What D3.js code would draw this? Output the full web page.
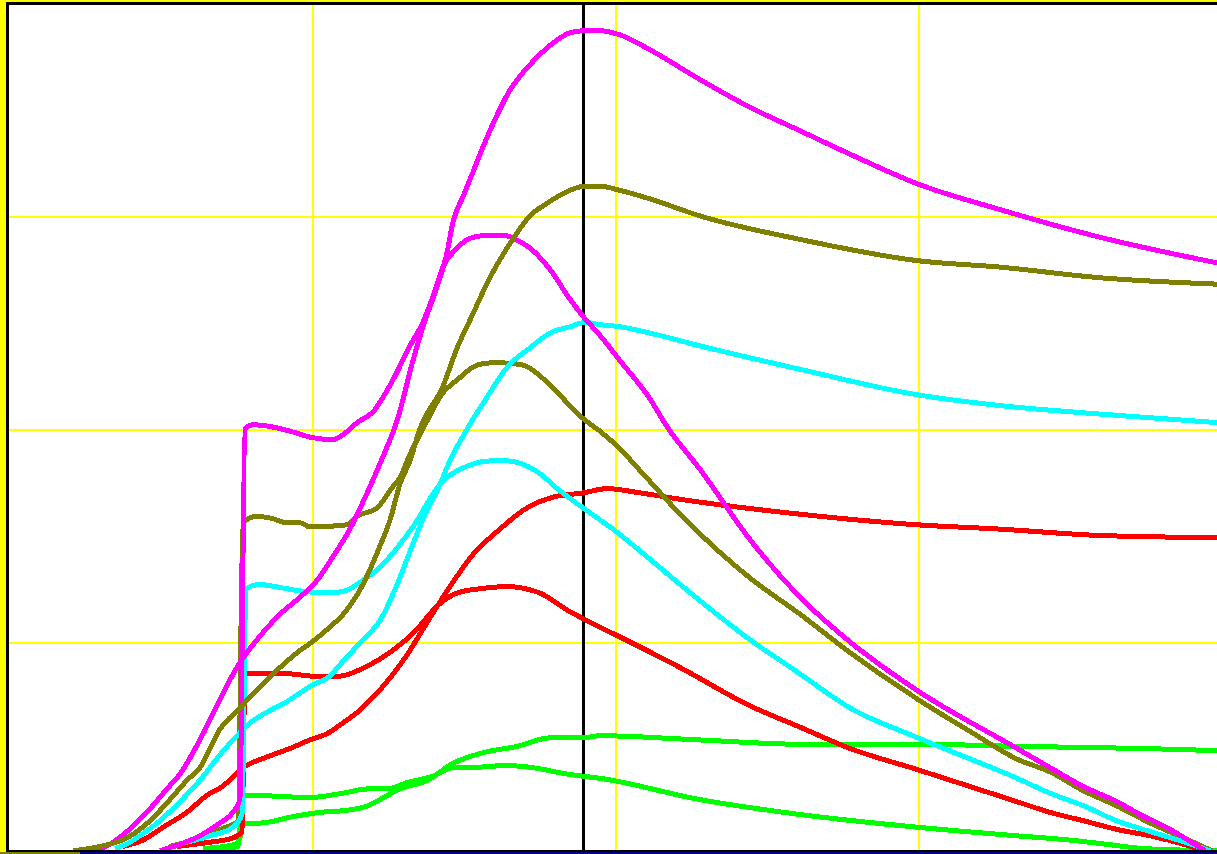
<!DOCTYPE html>
<html>
<head>
<meta charset="utf-8">
<script src="https://cdn.jsdelivr.net/npm/d3@7"></script>
<style>
  html, body { margin: 0; padding: 0; background: #ffffff; overflow: hidden; }
  svg { display: block; }
</style>
</head>
<body>
<svg id="chart" width="1217" height="854"></svg>
<script>
// Grid divisions
const xTicks = [10, 20, 30];
const yTicks = [1, 2, 3];
const cursorX = 18.96;

// Each trace: [x, y] pairs
const magentaRise = [[2.84,0.02],[3.33,0.05],[3.89,0.11],[4.55,0.20],[5.21,0.31],[5.64,0.38],[6.30,0.54],[6.96,0.73],[7.52,0.88],[8.18,1.01],[8.94,1.13],[9.60,1.21],[10.17,1.29],[10.69,1.40],[11.25,1.53],[11.82,1.70],[12.34,1.87],[12.81,2.04],[13.33,2.32],[13.66,2.48],[14.13,2.67],[14.46,2.83],[14.65,2.97],[14.98,3.09],[15.21,3.17],[15.87,3.40],[16.53,3.59],[17.19,3.71],[17.85,3.80],[18.51,3.86],[19.01,3.87],[19.50,3.87],[20.17,3.85],[21.16,3.78],[22.81,3.64],[24.46,3.51],[26.11,3.40],[27.76,3.29],[30.00,3.15],[32.71,3.03],[36.01,2.90],[39.87,2.78]];
const magentaStep = [[4.98,0.02],[5.64,0.05],[6.30,0.09],[6.96,0.15],[7.39,0.20],[7.62,0.26],[7.79,2.00],[8.05,2.02],[8.68,2.01],[9.27,1.99],[10.00,1.96],[10.69,1.95],[11.09,1.98],[11.49,2.03],[12.01,2.08],[12.67,2.23],[13.23,2.39],[13.66,2.50],[14.06,2.65],[14.32,2.76],[14.72,2.84],[15.31,2.90],[15.87,2.91],[16.30,2.91],[16.86,2.88],[17.19,2.85],[17.85,2.75],[18.51,2.61],[18.94,2.53],[19.50,2.44],[20.17,2.32],[21.16,2.14],[21.72,2.01],[22.81,1.81],[24.46,1.48],[26.11,1.21],[27.76,1.00],[30.00,0.77],[33.27,0.50],[34.36,0.41],[35.48,0.32],[36.57,0.25],[37.33,0.19],[38.32,0.12],[39.47,0.02]];
const oliveRise = [[2.11,0.02],[3.00,0.04],[3.89,0.08],[4.65,0.16],[5.31,0.26],[5.87,0.35],[6.30,0.41],[6.96,0.59],[7.62,0.69],[8.28,0.79],[8.94,0.88],[9.60,0.96],[10.00,1.00],[10.59,1.07],[11.09,1.14],[11.68,1.27],[12.24,1.45],[12.57,1.57],[12.90,1.74],[13.23,1.85],[13.56,2.00],[14.32,2.20],[14.79,2.38],[15.31,2.54],[15.87,2.71],[16.53,2.87],[17.19,3.00],[17.76,3.06],[18.35,3.11],[19.01,3.14],[19.50,3.14],[20.17,3.12],[21.16,3.08],[22.81,3.00],[26.11,2.89],[30.00,2.79],[32.71,2.76],[36.01,2.71],[39.87,2.68]];
const oliveStep = [[5.31,0.04],[6.30,0.08],[6.96,0.12],[7.56,0.16],[7.72,1.56],[8.18,1.59],[8.68,1.58],[9.17,1.56],[9.60,1.56],[9.93,1.54],[11.16,1.55],[11.49,1.59],[12.15,1.63],[12.67,1.73],[12.90,1.77],[13.23,1.88],[13.73,2.02],[14.32,2.17],[14.79,2.23],[15.45,2.30],[15.87,2.31],[16.30,2.31],[16.96,2.30],[17.76,2.22],[18.51,2.11],[18.94,2.05],[19.50,1.99],[20.07,1.92],[20.92,1.79],[22.15,1.60],[24.46,1.30],[26.11,1.13],[27.76,0.95],[30.00,0.73],[31.72,0.58],[33.27,0.45],[34.36,0.39],[35.48,0.30],[36.57,0.23],[37.66,0.15],[38.78,0.08],[39.70,0.02]];
const cyanRise = [[3.50,0.03],[3.99,0.06],[4.42,0.10],[4.98,0.16],[5.64,0.25],[6.30,0.35],[6.96,0.47],[7.46,0.55],[7.95,0.62],[8.51,0.67],[9.17,0.72],[9.60,0.76],[10.03,0.80],[10.50,0.83],[11.09,0.92],[11.68,1.01],[12.24,1.10],[12.81,1.27],[13.33,1.46],[13.73,1.60],[14.13,1.71],[14.55,1.85],[15.12,2.00],[15.78,2.15],[16.44,2.29],[17.19,2.38],[17.85,2.45],[18.51,2.48],[19.01,2.50],[19.50,2.49],[20.17,2.48],[21.16,2.45],[22.81,2.39],[26.11,2.28],[30.00,2.16],[32.71,2.11],[36.01,2.07],[39.87,2.03]];
const cyanStep = [[5.87,0.06],[6.63,0.09],[7.39,0.13],[7.69,0.19],[7.82,1.25],[8.28,1.27],[8.78,1.26],[9.60,1.24],[10.59,1.23],[11.09,1.24],[11.68,1.29],[12.24,1.35],[12.74,1.43],[13.33,1.54],[14.22,1.74],[15.21,1.83],[15.87,1.85],[16.44,1.85],[17.43,1.80],[18.18,1.71],[18.94,1.63],[19.93,1.53],[21.06,1.40],[22.15,1.27],[24.46,1.01],[26.11,0.85],[27.76,0.69],[30.00,0.55],[33.27,0.36],[34.36,0.29],[35.48,0.23],[36.57,0.16],[37.66,0.11],[38.81,0.06],[39.64,0.02]];
const redRise = [[3.76,0.04],[4.42,0.07],[5.08,0.13],[5.87,0.20],[6.53,0.28],[7.03,0.32],[7.72,0.41],[8.51,0.46],[9.27,0.50],[9.93,0.54],[10.50,0.57],[11.02,0.62],[11.58,0.68],[12.01,0.74],[12.57,0.83],[13.14,0.94],[13.66,1.06],[14.46,1.24],[15.31,1.41],[16.20,1.53],[17.10,1.63],[17.95,1.68],[18.94,1.70],[19.74,1.72],[20.83,1.70],[22.15,1.67],[26.11,1.60],[30.00,1.55],[32.71,1.53],[36.01,1.50],[39.87,1.49]];
const redStep = [[5.54,0.04],[6.63,0.06],[7.39,0.08],[7.69,0.11],[7.79,0.85],[8.28,0.85],[9.27,0.85],[10.00,0.84],[10.92,0.84],[11.58,0.87],[12.24,0.92],[13.33,1.04],[14.22,1.18],[14.79,1.23],[15.54,1.25],[16.44,1.26],[17.52,1.23],[18.42,1.15],[18.94,1.11],[19.93,1.04],[21.06,0.96],[22.15,0.88],[24.46,0.70],[26.11,0.60],[27.76,0.50],[30.00,0.40],[33.27,0.25],[34.36,0.20],[35.48,0.16],[36.57,0.12],[37.66,0.09],[38.78,0.05],[39.44,0.02]];
const greenRise = [[6.40,0.03],[7.46,0.05],[7.62,0.08],[7.72,0.15],[8.28,0.15],[9.37,0.18],[10.26,0.20],[11.16,0.21],[11.82,0.23],[12.24,0.26],[12.90,0.31],[13.80,0.35],[14.65,0.43],[15.64,0.48],[16.77,0.51],[17.85,0.55],[18.94,0.55],[19.50,0.56],[22.81,0.54],[26.11,0.52],[30.00,0.52],[33.27,0.51],[37.46,0.50],[39.87,0.49]];
const greenStep = [[6.40,0.02],[7.56,0.04],[7.72,0.28],[7.95,0.28],[9.93,0.27],[11.02,0.29],[11.82,0.31],[12.48,0.31],[13.14,0.34],[13.99,0.37],[14.65,0.41],[15.12,0.41],[16.44,0.42],[17.29,0.41],[18.42,0.38],[18.94,0.37],[19.50,0.36],[22.81,0.26],[26.11,0.19],[30.00,0.13],[33.27,0.09],[35.02,0.07],[36.24,0.05],[37.46,0.03],[39.87,0.02]];

// Painting order, bottom to top
const traces = [
  { data: greenStep,   color: "#00ff00" },
  { data: greenRise,   color: "#00ff00" },
  { data: redStep,     color: "#ff0000" },
  { data: redRise,     color: "#ff0000" },
  { data: oliveStep,   color: "#808000" },
  { data: cyanStep,    color: "#00ffff" },
  { data: cyanRise,    color: "#00ffff" },
  { data: magentaStep, color: "#ff00ff" },
  { data: magentaRise, color: "#ff00ff" },
  { data: oliveRise,   color: "#808000" }
];

const W = 1217, H = 854;
const plot = { left: 9, top: 5, right: 1217, bottom: 850 };

const svg = d3.select("#chart");

const x = d3.scaleLinear().domain([0, 40]).range([9, 1221]);
const y = d3.scaleLinear().domain([0, 4]).range([855, 3]);

// Frame: yellow outer strip, black border, white plotting field
svg.append("rect").attr("x", 0).attr("y", 0).attr("width", W).attr("height", H).attr("fill", "#ffff00");
svg.append("rect").attr("x", 6).attr("y", 2).attr("width", W - 6).attr("height", 850).attr("fill", "#000000");
svg.append("rect").attr("x", plot.left).attr("y", plot.top)
  .attr("width", plot.right - plot.left).attr("height", plot.bottom - plot.top).attr("fill", "#ffffff");
svg.append("rect").attr("x", 0).attr("y", 852).attr("width", 80).attr("height", 2).attr("fill", "#808000");
svg.append("rect").attr("x", 80).attr("y", 852).attr("width", W - 80).attr("height", 2).attr("fill", "#000080");

svg.append("clipPath").attr("id", "plotClip")
  .append("rect").attr("x", plot.left).attr("y", plot.top)
  .attr("width", plot.right - plot.left).attr("height", plot.bottom - plot.top);

const field = svg.append("g").attr("clip-path", "url(#plotClip)");

// Yellow grid from axes
const gx = field.append("g")
  .attr("transform", `translate(0,${plot.bottom})`)
  .call(d3.axisBottom(x).tickValues(xTicks).tickSize(-(plot.bottom - plot.top)).tickFormat(""));
const gy = field.append("g")
  .attr("transform", `translate(${plot.left},0)`)
  .call(d3.axisLeft(y).tickValues(yTicks).tickSize(-(plot.right - plot.left)).tickFormat(""));
[gx, gy].forEach(g => {
  g.select(".domain").remove();
  g.selectAll(".tick line").attr("stroke", "#ffff00").attr("stroke-width", 2).attr("shape-rendering", "crispEdges");
});

// Cursor line
field.append("line")
  .attr("x1", x(cursorX)).attr("x2", x(cursorX))
  .attr("y1", plot.top).attr("y2", plot.bottom)
  .attr("stroke", "#000000").attr("stroke-width", 3).attr("shape-rendering", "crispEdges");

// Traces
const line = d3.line()
  .x(d => x(d[0]))
  .y(d => y(d[1]))
  .curve(d3.curveMonotoneX);

field.selectAll("path.trace")
  .data(traces)
  .join("path")
  .attr("class", "trace")
  .attr("d", d => line(d.data))
  .attr("fill", "none")
  .attr("stroke", d => d.color)
  .attr("stroke-width", 5)
  .attr("stroke-linejoin", "round")
  .attr("shape-rendering", "crispEdges");
</script>
</body>
</html>
